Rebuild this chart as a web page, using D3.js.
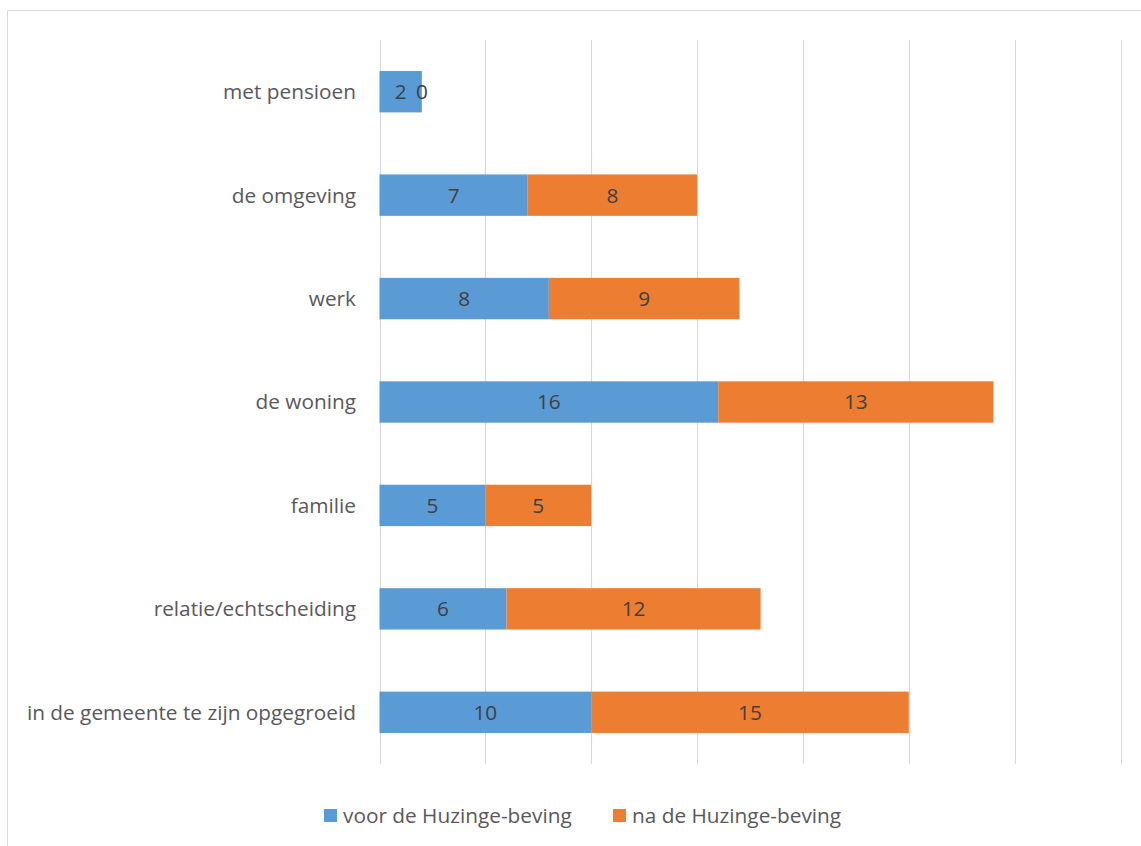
<!DOCTYPE html>
<html>
<head>
<meta charset="utf-8">
<script src="https://cdn.jsdelivr.net/npm/d3@7"></script>
<style>
  html, body { margin: 0; padding: 0; background: #fff; }
  svg text { font-family: "Open Sans", "Noto Sans", sans-serif; }
</style>
</head>
<body>
<svg id="chart" width="1141" height="846"></svg>
<script>
// Reasons for moving, before and after the Huizinge earthquake
const categories = [
  "met pensioen",
  "de omgeving",
  "werk",
  "de woning",
  "familie",
  "relatie/echtscheiding",
  "in de gemeente te zijn opgegroeid"
];
const voorValues = [2, 7, 8, 16, 5, 6, 10];
const naValues   = [0, 8, 9, 13, 5, 12, 15];
const seriesNames = ["voor de Huzinge-beving", "na de Huzinge-beving"];
const seriesColors = ["#5B9BD5", "#ED7D31"];
const xTicks = [0, 5, 10, 15, 20, 25, 30, 35];

const svg = d3.select("#chart");
const fontSize = 20.8;

// Chart frame
svg.append("path")
  .attr("d", "M7.5,846 L7.5,10.5 L1141,10.5")
  .attr("fill", "none")
  .attr("stroke", "#d9d9d9")
  .attr("stroke-width", 1);

const plot = { left: 379.5, right: 1120.5, top: 40, bottom: 764 };

const x = d3.scaleLinear().domain([0, 35]).range([plot.left, plot.right]);
const y = d3.scaleBand()
  .domain(categories)
  .range([plot.top, plot.bottom])
  .paddingInner(0.6)
  .paddingOuter(0.3);

// Vertical gridlines
svg.append("g")
  .selectAll("line")
  .data(xTicks)
  .join("line")
  .attr("x1", d => Math.round(x(d)) + 0.5)
  .attr("x2", d => Math.round(x(d)) + 0.5)
  .attr("y1", plot.top)
  .attr("y2", plot.bottom)
  .attr("stroke", "#d9d9d9")
  .attr("stroke-width", 1.2);

// Stacked data
const rows = categories.map((c, i) => ({ cat: c, voor: voorValues[i], na: naValues[i] }));
const stacked = d3.stack().keys(["voor", "na"])(rows);

const layers = svg.append("g")
  .selectAll("g")
  .data(stacked)
  .join("g")
  .attr("fill", (d, i) => seriesColors[i]);

layers.selectAll("rect")
  .data(d => d)
  .join("rect")
  .attr("x", d => x(d[0]))
  .attr("width", d => x(d[1]) - x(d[0]))
  .attr("y", d => y(d.data.cat))
  .attr("height", y.bandwidth());

// Value labels centred in each segment
const labelG = svg.append("g")
  .attr("font-size", fontSize)
  .attr("fill", "#404040")
  .attr("text-anchor", "middle");

stacked.forEach(layer => {
  layer.forEach(d => {
    labelG.append("text")
      .attr("x", (x(d[0]) + x(d[1])) / 2)
      .attr("y", y(d.data.cat) + y.bandwidth() / 2)
      .attr("dy", "0.36em")
      .text(d[1] - d[0]);
  });
});

// Category labels
svg.append("g")
  .attr("font-size", fontSize)
  .attr("fill", "#595959")
  .attr("text-anchor", "end")
  .selectAll("text")
  .data(categories)
  .join("text")
  .attr("x", 356)
  .attr("y", d => y(d) + y.bandwidth() / 2)
  .attr("dy", "0.36em")
  .text(d => d);

// Legend
const legendPos = [324, 613];
const legend = svg.append("g");
seriesNames.forEach((name, i) => {
  legend.append("rect")
    .attr("x", legendPos[i])
    .attr("y", 809)
    .attr("width", 13)
    .attr("height", 13)
    .attr("fill", seriesColors[i]);
  legend.append("text")
    .attr("x", legendPos[i] + 19)
    .attr("y", 815.5)
    .attr("dy", "0.36em")
    .attr("font-size", fontSize)
    .attr("fill", "#595959")
    .text(name);
});
</script>
</body>
</html>
